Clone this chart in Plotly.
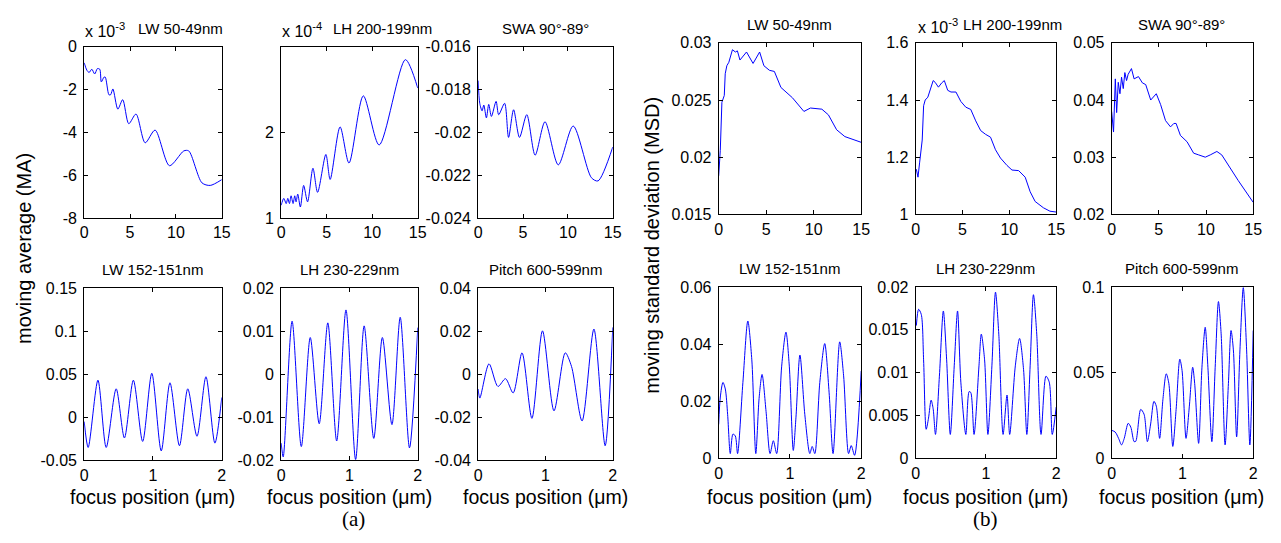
import plotly.graph_objects as go

W, H = 1281, 543

# ---------------- data ----------------
# (a) moving average, top row (x = focus position, 0..15)
ma_lw50_x = [0, 0.3, 0.54, 0.83, 1.15, 1.44, 1.7, 1.87, 2.16, 2.3, 2.7, 2.88, 3.13, 3.67, 4.2, 4.86,
             5.65, 6.65, 7.73, 9.3, 10.86, 11.4, 12.84, 13.74, 15]
ma_lw50_y = [-0.75, -1.1, -1.2, -1.05, -1.27, -1.02, -1.05, -1.64, -1.42, -1.42, -2.24, -2.24, -1.97,
             -2.91, -2.47, -3.59, -3.14, -4.48, -3.89, -5.55, -4.86, -4.86, -6.35, -6.47, -6.2]  # x 1e-3

ma_lh200_x = [0, 0.29, 0.55, 0.73, 0.91, 1.09, 1.31, 1.49, 1.64, 1.82, 2.11, 2.47, 2.9, 3.49, 4.0,
              4.91, 5.38, 6.47, 7.45, 9.02, 10.76, 13.64, 15]
ma_lh200_y = [1.15, 1.23, 1.17, 1.23, 1.17, 1.26, 1.17, 1.26, 1.19, 1.28, 1.13, 1.38, 1.19, 1.58, 1.30,
              1.74, 1.45, 2.06, 1.64, 2.42, 1.85, 2.84, 2.51]  # x 1e-4

ma_swa_x = [0, 0.18, 0.44, 0.63, 0.92, 1.18, 1.48, 2.0, 2.29, 2.95, 3.39, 3.95, 4.61, 5.42, 6.35,
            7.45, 8.93, 10.59, 12.62, 13.36, 15]
ma_swa_y = [-0.01758, -0.01864, -0.01899, -0.01872, -0.01932, -0.01869, -0.01925, -0.01855, -0.01917,
            -0.01864, -0.02023, -0.01894, -0.02023, -0.01917, -0.02106, -0.0195, -0.02151, -0.0197,
            -0.02211, -0.02226, -0.02068]

# (a) moving average, bottom row (x = focus position, 0..2)
ma_lw152_x = [0, 0.058, 0.2, 0.32, 0.465, 0.585, 0.715, 0.85, 0.983, 1.12, 1.247, 1.385, 1.506, 1.64,
              1.77, 1.90, 2.0]
ma_lw152_y = [-0.005, -0.035, 0.043, -0.035, 0.033, -0.024, 0.043, -0.028, 0.051, -0.039, 0.040, -0.033,
              0.033, -0.022, 0.047, -0.030, 0.023]

ma_lh230_x = [0, 0.03, 0.16, 0.295, 0.426, 0.557, 0.683, 0.813, 0.949, 1.09, 1.215, 1.356, 1.482, 1.622,
              1.743, 1.879, 2.0]
ma_lh230_y = [-0.016, -0.0192, 0.0123, -0.0168, 0.0085, -0.0115, 0.0119, -0.0155, 0.0149, -0.0198, 0.0112,
              -0.0149, 0.0085, -0.0117, 0.0132, -0.0171, 0.0108]

ma_pitch_x = [0, 0.025, 0.162, 0.294, 0.407, 0.52, 0.652, 0.799, 0.956, 1.127, 1.294, 1.387, 1.544, 1.72,
              1.887, 2.0]
ma_pitch_y = [-0.0069, -0.0111, 0.0048, -0.0057, -0.0021, -0.0087, 0.0099, -0.0205, 0.0201, -0.017, 0.0099,
              0.0036, -0.0217, 0.0209, -0.0332, 0.0217]

# (b) moving standard deviation, top row
msd_lw50_x = [0, 0.17, 0.34, 0.59, 0.69, 0.86, 1.07, 1.21, 1.45, 1.76, 1.97, 2.24, 2.93, 3.62, 4.31, 4.76,
              5.34, 5.86, 6.55, 7.76, 8.45, 8.97, 9.66, 10.86, 11.55, 12.41, 13.28, 15]
msd_lw50_y = [0.01836, 0.0206, 0.0248, 0.0254, 0.0273, 0.028, 0.0283, 0.0288, 0.0294, 0.0292, 0.0293,
              0.0285, 0.0292, 0.0282, 0.0292, 0.028, 0.0276, 0.0275, 0.0261, 0.0252, 0.0245, 0.024,
              0.0243, 0.0242, 0.0237, 0.0224, 0.0218, 0.0213]

msd_lh200_x = [0.07, 0.25, 0.42, 0.7, 0.85, 1.02, 1.3, 1.65, 1.87, 2.08, 2.43, 2.78, 3.06, 3.42, 3.77, 4.3,
               4.82, 5.35, 5.88, 6.41, 6.94, 7.46, 7.99, 8.52, 9.05, 9.75, 10.28, 10.99, 11.69, 12.22,
               12.75, 13.63, 14.33, 15]
msd_lh200_y = [1.158, 1.13, 1.18, 1.26, 1.38, 1.40, 1.41, 1.445, 1.468, 1.462, 1.445, 1.46, 1.468, 1.434,
               1.428, 1.428, 1.395, 1.375, 1.367, 1.327, 1.293, 1.28, 1.27, 1.226, 1.197, 1.171, 1.155,
               1.153, 1.13, 1.079, 1.045, 1.023, 1.011, 1.008]  # x 1e-3

msd_swa_x = [0, 0.2, 0.39, 0.53, 0.7, 0.88, 1.05, 1.23, 1.4, 1.58, 1.75, 1.93, 2.1, 2.38, 2.84, 3.26,
             3.61, 4.14, 4.73, 5.19, 5.71, 6.24, 6.59, 6.83, 7.29, 7.99, 8.69, 9.22, 9.92, 10.45, 11.15,
             11.67, 12.37, 13.42, 15]
msd_swa_y = [0.038, 0.0344, 0.0437, 0.0378, 0.0431, 0.0411, 0.044, 0.042, 0.0448, 0.0434, 0.0445, 0.0451,
             0.0455, 0.0437, 0.0441, 0.043, 0.0427, 0.04, 0.0411, 0.0392, 0.0364, 0.0353, 0.0359, 0.0359,
             0.0338, 0.0327, 0.0307, 0.0304, 0.03, 0.0304, 0.031, 0.0304, 0.0285, 0.0259, 0.0221]

# (b) moving standard deviation, bottom row
msd_lw152_x = [0, 0.023, 0.06, 0.093, 0.126, 0.163, 0.2, 0.233, 0.265, 0.34, 0.409, 0.465, 0.521, 0.567,
               0.609, 0.665, 0.721, 0.767, 0.814, 0.884, 0.944, 0.991, 1.047, 1.084, 1.14, 1.209, 1.279,
               1.312, 1.349, 1.419, 1.488, 1.549, 1.605, 1.698, 1.753, 1.823, 1.86, 1.907, 2.0]
msd_lw152_y = [0.0119, 0.0215, 0.0266, 0.0243, 0.0153, 0.0017, 0.0085, 0.0079, 0.0017, 0.0266, 0.0481,
               0.0345, 0.0017, 0.021, 0.0294, 0.0164, 0.0017, 0.0062, 0.0017, 0.0323, 0.0442, 0.0323,
               0.0028, 0.0142, 0.0362, 0.0153, 0.0017, 0.0042, 0.0017, 0.0266, 0.0402, 0.0232, 0.0017,
               0.0408, 0.0289, 0.0017, 0.0045, 0.0011, 0.0306]

msd_lh230_x = [0.01, 0.042, 0.08, 0.113, 0.15, 0.183, 0.22, 0.249, 0.282, 0.338, 0.394, 0.441, 0.493,
               0.549, 0.596, 0.643, 0.714, 0.761, 0.784, 0.831, 0.901, 0.934, 0.981, 1.028, 1.085, 1.136,
               1.183, 1.244, 1.3, 1.338, 1.418, 1.479, 1.535, 1.582, 1.629, 1.676, 1.723, 1.784, 1.854,
               1.901, 1.944, 2.0]
msd_lh230_y = [0.0155, 0.0174, 0.0168, 0.0115, 0.0034, 0.0047, 0.0068, 0.0058, 0.0028, 0.0096, 0.0172,
               0.0115, 0.0028, 0.0108, 0.0172, 0.0089, 0.0028, 0.0078, 0.0077, 0.0028, 0.0108, 0.0145,
               0.0115, 0.0028, 0.0108, 0.0194, 0.0145, 0.0028, 0.0074, 0.0028, 0.0108, 0.014, 0.0104,
               0.0028, 0.0108, 0.0191, 0.0145, 0.0028, 0.0096, 0.0089, 0.0028, 0.0060]

msd_pitch_x = [0, 0.05, 0.098, 0.14, 0.178, 0.234, 0.271, 0.318, 0.341, 0.411, 0.458, 0.505, 0.551,
               0.598, 0.631, 0.678, 0.724, 0.771, 0.808, 0.864, 0.911, 0.963, 0.995, 1.051, 1.098, 1.145,
               1.173, 1.229, 1.276, 1.322, 1.36, 1.416, 1.463, 1.509, 1.547, 1.603, 1.65, 1.687, 1.72,
               1.766, 1.813, 1.86, 1.907, 1.953, 2.0]
msd_pitch_y = [0.0164, 0.0154, 0.0117, 0.0079, 0.0117, 0.0205, 0.0182, 0.0098, 0.0100, 0.0286, 0.0258,
               0.0098, 0.0201, 0.0333, 0.0305, 0.0117, 0.0342, 0.0494, 0.0438, 0.007, 0.0286, 0.0579,
               0.0513, 0.0117, 0.0305, 0.0532, 0.0438, 0.0088, 0.0532, 0.0765, 0.0532, 0.0098, 0.0532,
               0.0915, 0.0727, 0.0079, 0.0438, 0.0746, 0.0633, 0.0126, 0.0633, 0.0996, 0.0633, 0.0079,
               0.0746]

# tick definitions
xt_top = [0, 5, 10, 15]
xt_bot = [0, 1, 2]
yt_ma_lw50 = [-8, -6, -4, -2, 0];            yl_ma_lw50 = ["-8", "-6", "-4", "-2", "0"]
yt_ma_lh200 = [1, 2];                         yl_ma_lh200 = ["1", "2"]
yt_ma_swa = [-0.024, -0.022, -0.02, -0.018, -0.016]
yl_ma_swa = ["-0.024", "-0.022", "-0.02", "-0.018", "-0.016"]
yt_ma_lw152 = [-0.05, 0, 0.05, 0.1, 0.15];    yl_ma_lw152 = ["-0.05", "0", "0.05", "0.1", "0.15"]
yt_ma_lh230 = [-0.02, -0.01, 0, 0.01, 0.02];  yl_ma_lh230 = ["-0.02", "-0.01", "0", "0.01", "0.02"]
yt_ma_pitch = [-0.04, -0.02, 0, 0.02, 0.04];  yl_ma_pitch = ["-0.04", "-0.02", "0", "0.02", "0.04"]
yt_msd_lw50 = [0.015, 0.02, 0.025, 0.03];     yl_msd_lw50 = ["0.015", "0.02", "0.025", "0.03"]
yt_msd_lh200 = [1, 1.2, 1.4, 1.6];            yl_msd_lh200 = ["1", "1.2", "1.4", "1.6"]
yt_msd_swa = [0.02, 0.03, 0.04, 0.05];        yl_msd_swa = ["0.02", "0.03", "0.04", "0.05"]
yt_msd_lw152 = [0, 0.02, 0.04, 0.06];         yl_msd_lw152 = ["0", "0.02", "0.04", "0.06"]
yt_msd_lh230 = [0, 0.005, 0.01, 0.015, 0.02]; yl_msd_lh230 = ["0", "0.005", "0.01", "0.015", "0.02"]
yt_msd_pitch = [0, 0.05, 0.1];                yl_msd_pitch = ["0", "0.05", "0.1"]

FONT = "Liberation Sans, Arial, sans-serif"
BLUE = "#0000ff"

# panels: (x, y, xrange, yrange, xticks, yticks, ylabels, pixel box [left, right, top, bottom], shape)
panels = [
    (ma_lw50_x, ma_lw50_y, [0, 15], [-8, 0], xt_top, yt_ma_lw50, yl_ma_lw50, (81, 220, 40, 217), "spline"),
    (ma_lh200_x, ma_lh200_y, [0, 15], [1, 2.99], xt_top, yt_ma_lh200, yl_ma_lh200, (280, 418, 40, 217), "spline"),
    (ma_swa_x, ma_swa_y, [0, 15], [-0.024, -0.016], xt_top, yt_ma_swa, yl_ma_swa, (479, 615, 40, 217), "spline"),
    (ma_lw152_x, ma_lw152_y, [0, 2], [-0.05, 0.15], xt_bot, yt_ma_lw152, yl_ma_lw152, (81, 220, 289, 467), "spline"),
    (ma_lh230_x, ma_lh230_y, [0, 2], [-0.02, 0.02], xt_bot, yt_ma_lh230, yl_ma_lh230, (280, 418, 289, 467), "spline"),
    (ma_pitch_x, ma_pitch_y, [0, 2], [-0.04, 0.04], xt_bot, yt_ma_pitch, yl_ma_pitch, (479, 615, 289, 467), "spline"),
    (msd_lw50_x, msd_lw50_y, [0, 15], [0.015, 0.03], xt_top, yt_msd_lw50, yl_msd_lw50, (722, 866, 36, 213), "linear"),
    (msd_lh200_x, msd_lh200_y, [0, 15], [1, 1.6], xt_top, yt_msd_lh200, yl_msd_lh200, (921, 1063, 36, 213), "linear"),
    (msd_swa_x, msd_swa_y, [0, 15], [0.02, 0.05], xt_top, yt_msd_swa, yl_msd_swa, (1119, 1262, 36, 213), "linear"),
    (msd_lw152_x, msd_lw152_y, [0, 2], [0, 0.06], xt_bot, yt_msd_lw152, yl_msd_lw152, (722, 866, 288, 465), "spline"),
    (msd_lh230_x, msd_lh230_y, [0, 2], [0, 0.02], xt_bot, yt_msd_lh230, yl_msd_lh230, (921, 1063, 288, 465), "spline"),
    (msd_pitch_x, msd_pitch_y, [0, 2], [0, 0.1], xt_bot, yt_msd_pitch, yl_msd_pitch, (1119, 1262, 288, 465), "spline"),
]

fig = go.Figure()
layout = dict(
    width=W, height=H, margin=dict(l=0, r=0, t=0, b=0),
    paper_bgcolor="white", plot_bgcolor="white", showlegend=False,
    font=dict(family=FONT, color="black", size=16),
)

for i, (xs, ys, xr, yr, xt, yt, yl, box, shape) in enumerate(panels, start=1):
    l, r, t, b = box
    sfx = "" if i == 1 else str(i)
    fig.add_trace(go.Scatter(
        x=xs, y=ys, mode="lines",
        line=dict(color=BLUE, width=1, shape=shape, smoothing=0.8 if shape == "spline" else None),
        xaxis="x" + sfx, yaxis="y" + sfx, hoverinfo="skip",
    ))
    common = dict(showline=True, linecolor="black", linewidth=1, mirror="ticks", ticks="inside",
                  ticklen=4, tickwidth=1, tickcolor="black", showgrid=False, zeroline=False,
                  tickfont=dict(family=FONT, size=16, color="black"))
    layout["xaxis" + sfx] = dict(
        domain=[l / W, r / W], range=xr, anchor="y" + sfx,
        tickmode="array", tickvals=xt, ticktext=[str(v) for v in xt], **common)
    layout["yaxis" + sfx] = dict(
        domain=[1 - b / H, 1 - t / H], range=yr, anchor="x" + sfx,
        tickmode="array", tickvals=yt, ticktext=yl, ticklabelstandoff=3, **common)


def ann(text, px, py, size=15, xanchor="center", yanchor="middle", angle=0, family=FONT):
    return dict(text=text, x=px / W, y=1 - py / H, xref="paper", yref="paper", showarrow=False,
                xanchor=xanchor, yanchor=yanchor, textangle=angle,
                font=dict(family=family, size=size, color="black"))


annotations = [
    # top-row titles (a)
    ann("x 10<sup>-3</sup>", 80, 23, size=16, xanchor="left"),
    ann("LW 50-49nm", 133, 21, xanchor="left"),
    ann("x 10<sup>-4</sup>", 279, 23, size=16, xanchor="left"),
    ann("LH 200-199nm", 330, 21, xanchor="left"),
    ann("SWA 90°-89°", 547, 21),
    # bottom-row titles (a)
    ann("LW 152-151nm", 150, 270),
    ann("LH 230-229nm", 349, 270),
    ann("Pitch 600-599nm", 547, 270),
    # top-row titles (b)
    ann("LW 50-49nm", 794, 17),
    ann("x 10<sup>-3</sup>", 921, 19, size=16, xanchor="left"),
    ann("LH 200-199nm", 967, 17, xanchor="left"),
    ann("SWA 90°-89°", 1190, 17),
    # bottom-row titles (b)
    ann("LW 152-151nm", 794, 269),
    ann("LH 230-229nm", 992, 269),
    ann("Pitch 600-599nm", 1190, 269),
    # x-axis titles
    ann("focus position (μm)", 150, 505, size=19.5),
    ann("focus position (μm)", 349, 505, size=19.5),
    ann("focus position (μm)", 547, 505, size=19.5),
    ann("focus position (μm)", 794, 505, size=19.5),
    ann("focus position (μm)", 992, 505, size=19.5),
    ann("focus position (μm)", 1190, 505, size=19.5),
    # y-axis titles
    ann("moving average (MA)", 20, 248, size=20, angle=-90),
    ann("moving standard deviation (MSD)", 655, 245, size=20, angle=-90),
    # panel labels
    ann("(a)", 353, 528, size=21, family="Liberation Serif, Times New Roman, serif"),
    ann("(b)", 992, 528, size=21, family="Liberation Serif, Times New Roman, serif"),
]
layout["annotations"] = annotations
fig.update_layout(**layout)
fig.write_html("out.html")
